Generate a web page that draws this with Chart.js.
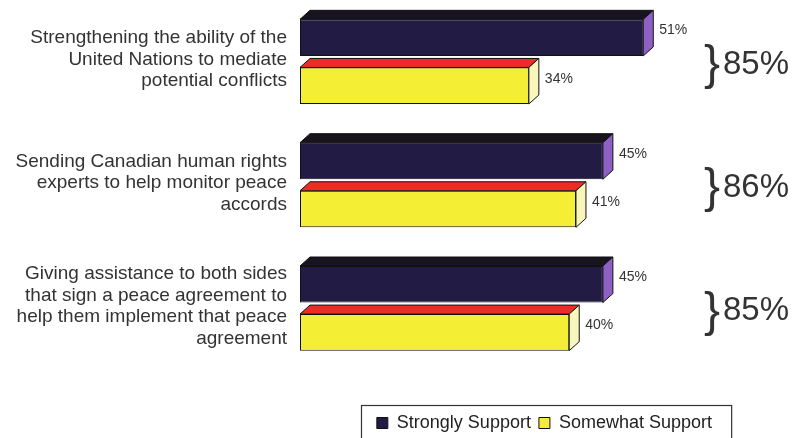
<!DOCTYPE html>
<html>
<head>
<meta charset="utf-8">
<script src="https://cdn.jsdelivr.net/npm/chart.js@4.4.1/dist/chart.umd.min.js"></script>
<style>
  html, body { margin: 0; padding: 0; background: #fff; }
  #wrap { width: 795px; height: 438px; }
</style>
</head>
<body>
<div id="wrap"><canvas id="grafico" width="795" height="438"></canvas></div>
<script>
// data
const categories = [
    ["Strengthening the ability of the", "United Nations to mediate", "potential conflicts"],
    ["Sending Canadian human rights", "experts to help monitor peace", "accords"],
    ["Giving assistance to both sides", "that sign a peace agreement to", "help them implement that peace", "agreement"]
];
const seriesNames = ["Strongly Support", "Somewhat Support"];
const strongly = [51, 45, 45];
const somewhat = [34, 41, 40];
const totals = [85, 86, 85];

const FONT = "'Liberation Sans', Arial, Helvetica, sans-serif";
const DX = 10, DY = 9;   // depth of the 3d faces

// top and side faces + value labels
const faces3d = {
    id: 'faces3d',
    afterDatasetsDraw(chart) {
        const ctx = chart.ctx;
        chart.data.datasets.forEach(function(ds, i){
            const meta = chart.getDatasetMeta(i);
            meta.data.forEach(function(bar, j){
                const p = bar.getProps(['x', 'y', 'base', 'height'], true);
                const x0 = p.base, x1 = p.x;
                const top = p.y - p.height / 2, bot = p.y + p.height / 2;
                ctx.save();
                ctx.lineWidth = 1;
                ctx.strokeStyle = '#111';
                ctx.lineJoin = 'round';
                // top
                ctx.fillStyle = ds.topColor;
                ctx.beginPath();
                ctx.moveTo(x0, top);
                ctx.lineTo(x0 + DX, top - DY);
                ctx.lineTo(x1 + DX, top - DY);
                ctx.lineTo(x1, top);
                ctx.closePath();
                ctx.fill();
                ctx.stroke();
                // side
                ctx.fillStyle = ds.sideColor;
                ctx.beginPath();
                ctx.moveTo(x1, top);
                ctx.lineTo(x1 + DX, top - DY);
                ctx.lineTo(x1 + DX, bot - DY);
                ctx.lineTo(x1, bot);
                ctx.closePath();
                ctx.fill();
                ctx.stroke();
                // value
                ctx.fillStyle = '#333';
                ctx.font = '14px ' + FONT;
                ctx.textAlign = 'left';
                ctx.textBaseline = 'middle';
                ctx.fillText(ds.data[j] + '%', x1 + DX + 6, p.y - 7);
                ctx.restore();
            });
        });
    }
};

// "}85%" totals and the frame round the legend
const extras = {
    id: 'extras',
    afterDraw(chart) {
        const ctx = chart.ctx;
        const y = chart.scales.y;
        ctx.save();
        ctx.fillStyle = '#333';
        ctx.textBaseline = 'middle';
        ctx.textAlign = 'left';
        totals.forEach(function(t, i){
            const cy = y.getPixelForValue(i) + 3;
            ctx.font = '48px ' + FONT;
            ctx.fillText('}', 704, cy + 1);
            ctx.font = '33px ' + FONT;
            ctx.fillText(t + '%', 723, cy);
        });
        const lg = chart.legend;
        const hb = lg.legendHitBoxes;
        if (hb.length) {
            const last = hb[hb.length - 1];
            const left = hb[0].left - 16;
            const right = last.left + last.width + 19;
            ctx.strokeStyle = '#333';
            ctx.lineWidth = 1.2;
            ctx.strokeRect(Math.round(left) + 0.5, Math.round(lg.top) - 0.5, right - left, 80);
        }
        ctx.restore();
    }
};

const ctx = document.getElementById('grafico').getContext('2d');
new Chart(ctx, {
    type: 'bar',
    data: {
        labels: categories,
        datasets: [{
            label: seriesNames[0],
            data: strongly,
            backgroundColor: '#221c45',
            topColor: '#17131f',
            sideColor: '#8e5fc4',
            borderColor: '#111',
            borderWidth: 1,
            borderSkipped: false
        }, {
            label: seriesNames[1],
            data: somewhat,
            backgroundColor: '#f4ef34',
            topColor: '#ef2b25',
            sideColor: '#f9f6bc',
            borderColor: '#111',
            borderWidth: 1,
            borderSkipped: false
        }]
    },
    options: {
        indexAxis: 'y',
        responsive: false,
        animation: false,
        devicePixelRatio: 1,
        categoryPercentage: 0.78,
        barPercentage: 0.76,
        layout: { padding: { left: 0, right: 75, top: 0, bottom: -4 } },
        plugins: {
            tooltip: { enabled: false },
            legend: {
                position: 'bottom',
                align: 'end',
                labels: {
                    boxWidth: 11,
                    boxHeight: 11,
                    padding: 8,
                    color: '#222',
                    font: { family: FONT, size: 18 }
                }
            }
        },
        scales: {
            x: {
                min: 0,
                max: 62.4,
                grid: { display: false },
                border: { display: false },
                ticks: { display: false },
                afterFit: function(s){ s.height = 36; }
            },
            y: {
                grid: { display: false, drawTicks: false },
                border: { display: false },
                ticks: {
                    color: '#333',
                    padding: 13,
                    labelOffset: -2,
                    font: { family: FONT, size: 19, lineHeight: 1.13 }
                },
                afterFit: function(s){
                    s.width = 300;
                    s.paddingTop = 0;
                    s.paddingBottom = 0;
                }
            }
        }
    },
    plugins: [faces3d, extras]
});
</script>
</body>
</html>
